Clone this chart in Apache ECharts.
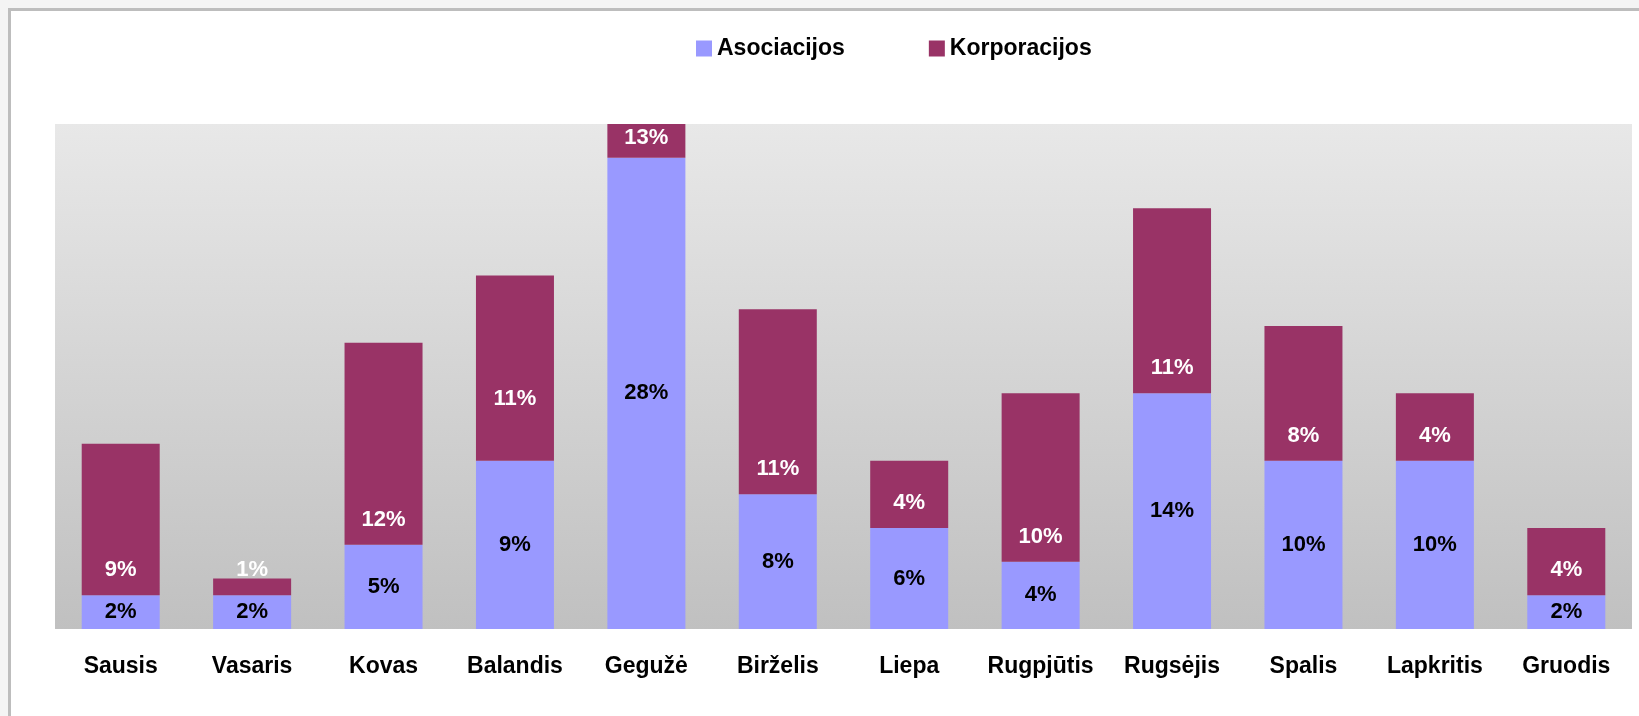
<!DOCTYPE html>
<html>
<head>
<meta charset="utf-8">
<title>Asociacijos / Korporacijos</title>
<script src="https://cdn.jsdelivr.net/npm/echarts@6/dist/echarts.min.js"></script>
<style>
    html, body {
        margin: 0;
        padding: 0;
        width: 1639px;
        height: 716px;
        overflow: hidden;
        background: #f4f4f4;
    }
    .frame {
        position: absolute;
        left: 8px;
        top: 8px;
        right: 0;
        bottom: 0;
        background: #ffffff;
        border-top: 3px solid #bdbdbd;
        border-left: 3px solid #bdbdbd;
    }
    #mychart {
        position: absolute;
        left: 0;
        top: 0;
        width: 1639px;
        height: 716px;
    }
</style>
</head>
<body>
<div class="frame"></div>
<div id="mychart"></div>
<script>
    var months = ['Sausis', 'Vasaris', 'Kovas', 'Balandis', 'Gegužė', 'Birželis',
        'Liepa', 'Rugpjūtis', 'Rugsėjis', 'Spalis', 'Lapkritis', 'Gruodis'];
    // bar heights, in %, as drawn
    var asociacijos = [2, 2, 5, 10, 28, 8, 6, 4, 14, 10, 10, 2];
    var korporacijos = [9, 1, 12, 11, 13, 11, 4, 10, 11, 8, 4, 4];
    // labels as printed on the bars
    var asociacijosLabels = ['2%', '2%', '5%', '9%', '28%', '8%', '6%', '4%', '14%', '10%', '10%', '2%'];
    var korporacijosLabels = ['9%', '1%', '12%', '11%', '13%', '11%', '4%', '10%', '11%', '8%', '4%', '4%'];

    var mychart = echarts.init(document.getElementById('mychart'));
    var font = '"Liberation Sans", Arial, sans-serif';

    // a few red labels sit at another height in the original
    var redLabelDistance = {3: 51, 4: 9};

    var option = {
        backgroundColor: 'transparent',
        animation: false,
        legend: {
            left: 696,
            top: 37,
            padding: 0,
            itemWidth: 16,
            itemHeight: 16,
            itemGap: 84,
            icon: 'rect',
            textStyle: {
                fontFamily: font,
                fontSize: 23,
                fontWeight: 'bold',
                color: '#000'
            },
            data: ['Asociacijos', 'Korporacijos']
        },
        grid: {
            left: 55,
            right: 7,
            top: 124,
            bottom: 87,
            show: true,
            borderWidth: 0,
            backgroundColor: {
                type: 'linear', x: 0, y: 0, x2: 0, y2: 1,
                colorStops: [
                    {offset: 0, color: '#e8e8e8'},
                    {offset: 1, color: '#c0c0c0'}
                ]
            }
        },
        xAxis: {
            type: 'category',
            data: months,
            axisLine: {show: false},
            axisTick: {show: false},
            axisLabel: {
                interval: 0,
                margin: 26,
                fontFamily: font,
                fontSize: 23,
                fontWeight: 'bold',
                color: '#000'
            }
        },
        yAxis: {
            type: 'value',
            min: 0,
            max: 30,
            show: false,
            splitLine: {show: false}
        },
        series: [{
            name: 'Asociacijos',
            type: 'bar',
            stack: 'total',
            barWidth: 78,
            clip: true,
            itemStyle: {color: '#9999ff'},
            label: {
                show: true,
                position: 'inside',
                fontFamily: font,
                fontSize: 22,
                fontWeight: 'bold',
                color: '#000',
                formatter: function (p) {
                    return asociacijosLabels[p.dataIndex];
                }
            },
            data: asociacijos
        }, {
            name: 'Korporacijos',
            type: 'bar',
            stack: 'total',
            barWidth: 78,
            clip: true,
            itemStyle: {color: '#993366'},
            label: {
                show: true,
                position: 'insideBottom',
                distance: 14,
                fontFamily: font,
                fontSize: 22,
                fontWeight: 'bold',
                color: '#fff',
                formatter: function (p) {
                    return korporacijosLabels[p.dataIndex];
                }
            },
            data: korporacijos.map(function (v, i) {
                if (redLabelDistance[i] !== undefined) {
                    return {value: v, label: {distance: redLabelDistance[i]}};
                }
                return v;
            })
        }]
    };
    mychart.setOption(option);
</script>
</body>
</html>
